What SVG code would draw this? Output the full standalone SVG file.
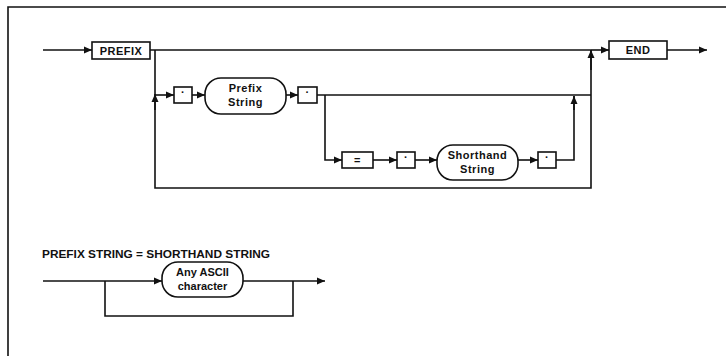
<svg xmlns="http://www.w3.org/2000/svg" width="726" height="356" viewBox="0 0 726 356">
<style>
.ln{fill:none;stroke:#111;stroke-width:1.6}
.bx{fill:#fff;stroke:#111;stroke-width:1.6}
.t{font-family:"Liberation Sans",Arial,sans-serif;font-weight:bold;font-size:11px;fill:#111;text-anchor:middle;letter-spacing:0.5px}
.tt{font-family:"Liberation Sans",Arial,sans-serif;font-weight:bold;font-size:10px;fill:#111}
</style>
<defs>
<marker id="ar" markerWidth="8" markerHeight="8" refX="8" refY="4" orient="auto" markerUnits="userSpaceOnUse">
<path d="M0,0.5 L8,4 L0,7.5 Z" fill="#111"/>
</marker>
</defs>
<rect width="726" height="356" fill="#fff"/>
<g id="frame">
<path class="ln" d="M8,356 V7 H726"/>
</g>
<g id="connectors">
<path class="ln" d="M43,50 H92" marker-end="url(#ar)"/>
<path class="ln" d="M150,50 H591"/>
<path class="ln" d="M591,50 H609" marker-end="url(#ar)"/>
<path class="ln" d="M667,50 H707" marker-end="url(#ar)"/>
<path class="ln" d="M155,50 V188 H591 V50"/>
<path class="ln" d="M591,70 V50" marker-end="url(#ar)"/>
<path class="ln" d="M155,110 V94" marker-end="url(#ar)"/>
<path class="ln" d="M155,95 H174" marker-end="url(#ar)"/>
<path class="ln" d="M192,95 H205" marker-end="url(#ar)"/>
<path class="ln" d="M286,95 H298" marker-end="url(#ar)"/>
<path class="ln" d="M317,95 H591"/>
<path class="ln" d="M325,95 V160 H342" marker-end="url(#ar)"/>
<path class="ln" d="M373,160 H397" marker-end="url(#ar)"/>
<path class="ln" d="M415,160 H437" marker-end="url(#ar)"/>
<path class="ln" d="M518,160 H538" marker-end="url(#ar)"/>
<path class="ln" d="M556,160 H574 V96"/>
<path class="ln" d="M574,110 V96" marker-end="url(#ar)"/>
<path class="ln" d="M43,281 H162" marker-end="url(#ar)"/>
<path class="ln" d="M243,281 H325" marker-end="url(#ar)"/>
<path class="ln" d="M105,281 V316 H293 V281"/>
</g>
<g id="prefix">
<rect class="bx" x="92" y="42" width="58" height="17"/>
<text class="t" x="121" y="54.5">PREFIX</text>
</g>
<g id="end">
<rect class="bx" x="609" y="41" width="58" height="18"/>
<text class="t" x="638" y="54">END</text>
</g>
<g id="dot1">
<rect class="bx" x="174" y="87" width="18" height="16"/>
<text class="t" x="183" y="96">·</text>
</g>
<g id="prefix-string">
<rect class="bx" x="205" y="78" width="81" height="36" rx="16" ry="16"/>
<text class="t" x="245.5" y="92">Prefix</text>
<text class="t" x="245.5" y="106">String</text>
</g>
<g id="dot2">
<rect class="bx" x="298" y="87" width="19" height="16"/>
<text class="t" x="307.5" y="96">·</text>
</g>
<g id="equals">
<rect class="bx" x="342" y="152" width="31" height="16"/>
<text class="t" x="357.5" y="164">=</text>
</g>
<g id="dot3">
<rect class="bx" x="397" y="152" width="18" height="16"/>
<text class="t" x="406" y="161">·</text>
</g>
<g id="shorthand-string">
<rect class="bx" x="437" y="145" width="81" height="35" rx="16" ry="16"/>
<text class="t" x="477.5" y="159">Shorthand</text>
<text class="t" x="477.5" y="173">String</text>
</g>
<g id="dot4">
<rect class="bx" x="538" y="152" width="18" height="16"/>
<text class="t" x="547" y="161">·</text>
</g>
<text class="tt" x="42" y="258" textLength="228" lengthAdjust="spacingAndGlyphs">PREFIX STRING = SHORTHAND STRING</text>
<g id="any-ascii">
<rect class="bx" x="162" y="262" width="81" height="35" rx="16" ry="16"/>
<text class="t" x="202.5" y="276" style="letter-spacing:0">Any ASCII</text>
<text class="t" x="202.5" y="290" style="letter-spacing:0">character</text>
</g>
</svg>
